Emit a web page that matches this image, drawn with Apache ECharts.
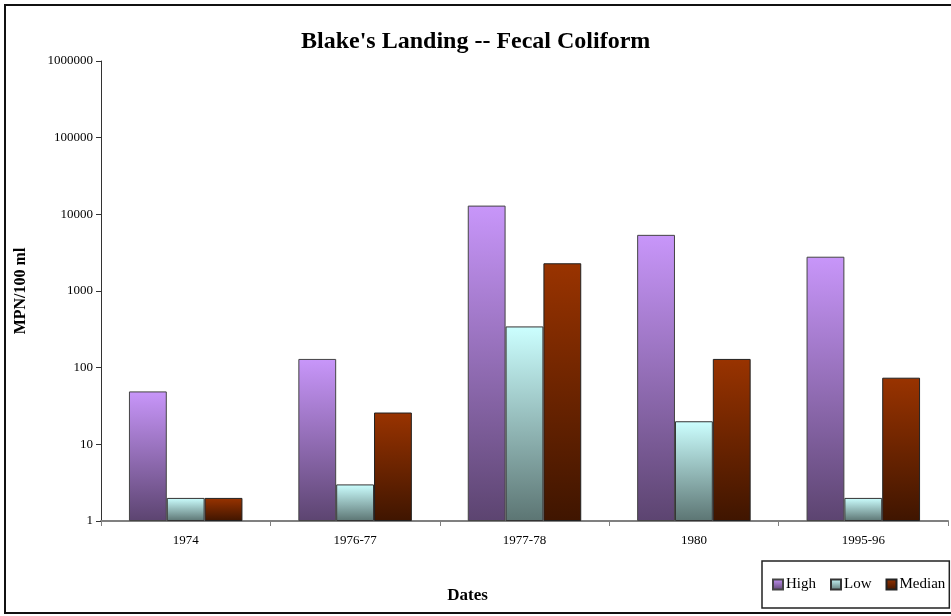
<!DOCTYPE html>
<html>
<head>
<meta charset="utf-8">
<script src="https://cdn.jsdelivr.net/npm/echarts@6/dist/echarts.min.js"></script>
<style>
  html, body { margin: 0; padding: 0; background: #fff; }
  #chart { width: 951px; height: 616px; }
</style>
</head>
<body>
<div id="chart"></div>
<script>
// Sampling periods
var dates = ['1974', '1976-77', '1977-78', '1980', '1995-96'];
// Fecal coliform, MPN per 100 ml
var highValues = [49, 130, 13000, 5400, 2800];
var lowValues = [2, 3, 345, 20, 2];
var medianValues = [2, 26, 2300, 130, 74];
// Log axis ticks
var yTicks = [1, 10, 100, 1000, 10000, 100000, 1000000];

var serif = '"Liberation Serif", "DejaVu Serif", serif';

function vgrad(top, bottom) {
  return new echarts.graphic.LinearGradient(0, 0, 0, 1, [
    { offset: 0, color: top },
    { offset: 1, color: bottom }
  ]);
}

var chart = echarts.init(document.getElementById('chart'), null, { renderer: 'canvas' });

var option = {
  backgroundColor: '#ffffff',
  animation: false,
  title: {
    text: "Blake's Landing -- Fecal Coliform",
    left: 296,
    top: 25,
    textStyle: { fontFamily: serif, fontWeight: 'bold', fontSize: 24, color: '#000' }
  },
  graphic: [{
    type: 'rect',
    shape: { x: 5, y: 5, width: 960, height: 608 },
    style: { fill: null, stroke: '#111', lineWidth: 2 },
    silent: true,
    z: 0
  }],
  legend: {
    left: 762,
    top: 561,
    padding: [16, 4, 16, 10],
    itemGap: 14,
    itemWidth: 10,
    itemHeight: 10,
    borderColor: '#222',
    borderWidth: 1.5,
    backgroundColor: '#fff',
    icon: 'rect',
    textStyle: { fontFamily: serif, fontSize: 15, color: '#000', padding: [0, 0, 0, -2] },
    data: ['High', 'Low', 'Median']
  },
  grid: { left: 101, right: 3, top: 61, bottom: 95 },
  xAxis: {
    type: 'category',
    data: dates,
    name: 'Dates',
    nameLocation: 'middle',
    nameGap: 66,
    nameTextStyle: { fontFamily: serif, fontWeight: 'bold', fontSize: 17, color: '#000', padding: [0, 114, 0, 0] },
    axisLine: { lineStyle: { color: '#808080', width: 2 } },
    axisTick: { show: true, length: 5, lineStyle: { color: '#808080' } },
    axisLabel: { fontFamily: serif, fontSize: 13, color: '#000', margin: 13 }
  },
  yAxis: {
    type: 'log',
    logBase: 10,
    min: 1,
    max: 1000000,
    name: 'MPN/100 ml',
    nameLocation: 'middle',
    nameGap: 72,
    nameTextStyle: { fontFamily: serif, fontWeight: 'bold', fontSize: 16, color: '#000' },
    splitLine: { show: false },
    axisLine: { show: true, lineStyle: { color: '#333', width: 1 } },
    axisTick: { show: true, length: 5, lineStyle: { color: '#333' } },
    axisLabel: {
      fontFamily: serif, fontSize: 13, color: '#000', margin: 8,
      formatter: function (v) {
        var r = Math.round(v);
        return yTicks.indexOf(r) >= 0 ? String(r) : '';
      }
    }
  },
  series: [
    {
      name: 'High', type: 'bar', data: highValues,
      barGap: '0%', barCategoryGap: '33%',
      itemStyle: { color: vgrad('#c896fa', '#5c4470'), borderColor: '#444', borderWidth: 1 }
    },
    {
      name: 'Low', type: 'bar', data: lowValues,
      barGap: '0%', barCategoryGap: '33%',
      itemStyle: { color: vgrad('#ccffff', '#5c7573'), borderColor: '#333', borderWidth: 1 }
    },
    {
      name: 'Median', type: 'bar', data: medianValues,
      barGap: '0%', barCategoryGap: '33%',
      itemStyle: { color: vgrad('#993300', '#3f1500'), borderColor: '#222', borderWidth: 1 }
    }
  ]
};

chart.setOption(option);
</script>
</body>
</html>
